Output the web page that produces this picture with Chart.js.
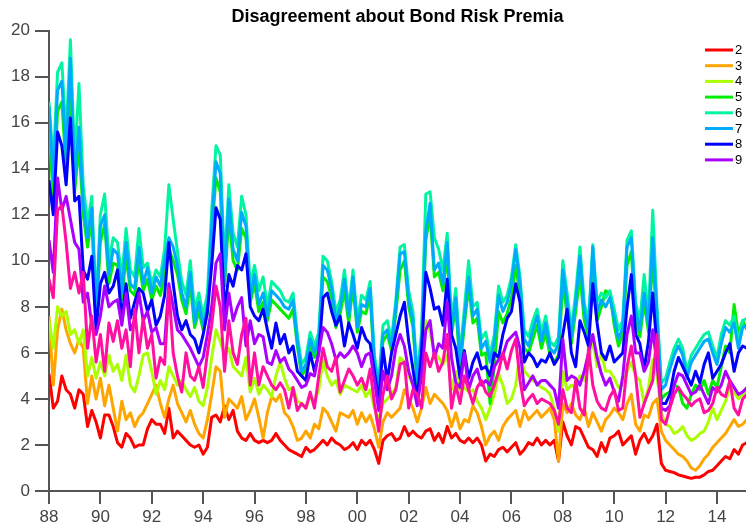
<!DOCTYPE html>
<html><head><meta charset="utf-8">
<script src="https://cdn.jsdelivr.net/npm/chart.js@4.4.1/dist/chart.umd.min.js"></script>
<style>html,body{margin:0;padding:0;background:#fff}#wrap{width:746px;height:529px}</style>
</head><body><div id="wrap"><canvas id="c" width="746" height="529"></canvas></div>
<script>
// Disagreement about Bond Risk Premia, sampled every 2 months from 1988
const startYear = 1988;
const stepYears = 1 / 6;
const xTickValues = [1988,1990,1992,1994,1996,1998,2000,2002,2004,2006,2008,2010,2012,2014];
const yTickValues = [0,2,4,6,8,10,12,14,16,18,20];
const seriesLabels = ['2','3','4','5','6','7','8','9','10'];
const seriesColors = ['#ff0000','#ffa500','#aaff00','#00ee00','#00f5a0','#00aaff','#0000ff','#aa00ff','#ff10a0'];

const s2 = [5.1,3.6,3.9,5.0,4.4,4.2,3.6,4.4,4.2,2.8,3.5,3.0,2.3,3.3,3.3,2.8,2.1,1.9,2.5,2.3,1.9,2.0,2.0,2.7,3.1,2.9,2.9,
2.5,3.6,2.3,2.6,2.4,2.2,2.0,1.9,2.0,1.6,1.9,3.2,3.3,3.0,3.7,3.1,3.5,2.6,2.3,2.2,2.5,2.2,2.1,2.2,2.1,2.2,2.5,
2.2,2.0,1.8,1.7,1.6,1.5,1.9,1.7,1.8,2.0,2.2,2.0,2.3,2.1,2.0,1.8,1.9,2.1,1.8,2.2,2.0,2.2,1.8,1.2,2.2,2.4,2.5,2.2,2.3,
2.8,2.4,2.6,2.4,2.3,2.6,2.7,2.2,2.5,2.1,2.8,2.3,2.5,2.2,2.1,2.3,2.1,2.3,2.0,1.3,1.6,1.5,1.8,1.9,1.7,1.9,2.1,1.6,
1.8,2.1,2.0,2.3,2.0,2.2,2.0,2.2,1.3,3.0,2.4,2.0,2.8,2.7,2.3,1.9,1.8,1.5,2.1,1.7,2.3,2.4,2.6,2.0,2.2,
2.4,1.6,2.2,2.5,2.1,2.4,2.9,1.2,0.9,0.85,0.8,0.7,0.65,0.6,0.55,0.6,0.6,0.7,0.85,0.9,1.1,1.3,1.5,1.4,1.8,1.6,2.0,2.1];

const s3 = [7.6,4.6,7.0,7.9,7.0,6.4,6.0,6.6,6.2,3.8,5.0,4.0,4.9,3.7,4.6,3.6,2.6,3.9,3.1,3.4,2.8,3.2,3.4,3.8,4.2,4.6,3.8,
3.2,4.0,4.6,3.8,3.4,3.0,3.5,2.9,2.5,2.3,3.1,4.2,5.4,5.2,3.2,4.0,3.8,3.6,4.1,3.1,3.5,4.0,3.2,2.3,3.4,4.1,3.9,
4.2,3.4,3.2,2.8,2.2,2.3,2.6,2.3,2.9,2.7,3.6,3.4,3.0,2.6,3.4,3.3,3.2,3.5,2.9,3.4,3.0,3.3,2.7,1.9,3.0,3.4,3.2,3.4,3.6,
4.4,4.0,3.6,3.0,3.6,4.5,3.8,4.2,4.0,3.8,3.5,2.8,3.4,2.7,3.1,3.0,3.7,3.4,2.8,2.0,2.4,2.6,2.2,2.8,3.1,3.3,3.5,2.8,
3.5,3.1,3.3,3.5,3.2,3.4,3.6,3.1,1.3,3.8,3.4,3.8,3.3,3.1,3.6,2.8,3.4,3.0,2.6,3.1,3.3,3.6,3.4,3.1,3.8,
4.2,2.9,2.6,3.3,3.2,3.8,4.0,2.6,2.2,2.0,1.8,1.6,1.5,1.3,1.0,0.9,1.1,1.4,1.6,1.9,2.1,2.3,2.5,2.8,3.1,2.8,2.9,3.1];

const s4 = [7.4,6.2,8.0,7.6,7.8,6.8,7.0,6.4,7.0,5.0,5.8,4.9,5.6,5.0,5.9,5.2,5.5,4.8,5.9,4.6,4.3,5.0,5.9,6.0,5.2,4.2,4.8,
4.4,5.4,5.0,4.6,4.8,4.4,4.1,4.5,3.9,3.7,4.5,5.8,7.0,6.5,5.9,6.2,5.4,5.2,5.0,5.8,4.3,4.9,4.2,4.6,4.4,4.1,5.0,
5.6,4.9,4.4,4.5,3.9,3.8,3.6,4.1,3.9,4.4,5.7,5.0,4.6,4.8,4.2,4.6,4.5,4.4,4.3,4.6,4.1,4.4,3.6,3.1,3.8,4.0,4.2,4.5,5.8,
5.6,5.0,4.6,4.2,5.0,7.4,6.9,6.0,5.8,5.5,5.9,4.4,5.2,4.3,4.5,4.3,4.4,3.9,3.6,3.1,3.6,4.2,5.1,4.6,3.8,4.0,4.6,6.0,
5.2,5.0,4.8,4.7,4.5,4.4,4.2,3.6,2.6,5.2,4.4,4.6,4.5,5.0,4.8,5.5,6.6,5.4,6.0,5.2,5.2,4.9,4.5,4.6,5.2,
5.6,5.0,4.8,3.8,4.5,5.7,5.0,3.4,2.9,2.8,2.5,2.6,2.8,2.4,2.2,2.3,2.5,2.6,3.0,3.6,3.1,3.5,3.9,4.5,4.3,4.0,4.2,4.4];

const s5 = [15.6,12.8,16.5,16.9,14.0,17.8,13.0,15.0,12.0,10.6,
11.8,7.4,10.8,11.6,9.0,9.9,9.8,8.3,10.2,8.7,
8.5,10.0,8.7,9.2,8.3,8.9,8.5,9.4,10.5,10.0,
9.4,8.3,7.7,9.0,7.1,7.8,7.0,7.7,11.2,13.6,
13.0,8.9,12.0,10.0,9.6,11.4,11.0,8.2,9.0,7.8,
8.2,7.4,8.3,8.1,7.9,7.7,7.5,7.9,6.3,5.0,
5.3,6.3,5.8,6.3,9.3,9.1,8.4,7.1,7.7,8.7,
7.3,8.9,6.9,7.8,7.7,8.5,5.3,4.2,6.5,6.8,
6.1,7.7,9.6,10.0,8.0,7.1,4.6,6.3,10.9,12.0,
9.3,9.5,8.7,10.3,6.8,8.0,5.3,7.2,8.9,7.3,
7.5,5.9,6.0,3.8,5.4,7.8,7.3,7.7,8.4,9.8,
8.5,6.2,6.0,6.6,7.2,6.2,6.9,5.9,5.6,5.9,
9.0,7.7,6.4,7.8,9.4,7.4,6.7,9.6,7.4,8.0,
8.7,8.6,7.2,6.3,6.8,9.8,10.4,7.3,6.7,8.2,
6.9,10.2,7.2,4.0,4.2,4.3,4.6,4.5,3.8,3.6,
4.2,4.6,4.4,4.8,4.2,4.8,4.5,5.4,6.3,6.0,
8.1,6.8,7.4,7.0];

const s6 = [16.9,14.2,18.2,18.6,15.4,19.6,14.3,17.7,13.3,11.6,
12.8,8.0,12.0,12.9,10.0,11.0,10.8,9.2,11.4,9.6,
9.3,11.4,9.7,9.9,9.0,9.6,9.3,10.5,13.3,11.8,
10.4,9.1,8.5,10.0,7.8,8.6,7.6,8.6,12.2,15.0,
14.6,9.8,13.3,11.2,10.6,12.8,12.0,8.9,9.8,8.7,
9.3,8.0,9.1,8.9,8.7,8.3,8.2,8.6,6.8,5.5,
5.8,6.9,6.3,6.9,10.2,10.0,9.1,7.8,8.3,9.6,
7.9,9.6,7.4,8.5,8.3,9.1,5.9,4.7,7.2,7.4,
6.6,8.3,10.6,10.7,8.7,7.8,5.0,6.9,12.9,13.0,
11.0,10.5,9.6,11.2,7.4,8.8,5.9,7.9,10.0,8.0,
8.2,6.6,6.9,5.9,6.8,8.9,8.2,8.5,9.3,10.7,
9.3,7.0,6.7,7.4,7.9,6.9,7.6,6.5,6.3,6.7,
10.0,8.6,7.0,8.6,10.6,8.2,7.3,10.7,8.2,8.6,
8.4,8.7,7.9,7.0,7.4,10.9,11.3,8.2,7.4,9.4,
7.6,12.2,8.0,4.7,4.9,5.6,6.2,6.6,6.2,5.2,
5.9,6.2,6.5,6.8,6.9,6.3,5.8,6.8,7.4,7.2,
7.6,6.5,7.4,7.5];

const s7 = [16.7,13.5,17.4,17.8,14.5,18.8,13.5,15.8,12.5,11.0,
12.3,7.6,11.5,12.0,9.4,10.5,10.3,8.6,10.8,9.0,
8.8,10.6,9.0,9.7,8.6,9.3,8.9,10.0,11.0,10.6,
9.8,8.6,8.0,9.5,7.3,8.2,7.2,8.0,11.5,14.3,
13.8,9.2,12.7,10.5,10.0,12.1,11.5,8.4,9.4,8.1,
8.6,7.6,8.7,8.5,8.3,8.0,7.9,8.3,6.5,5.2,
5.5,6.6,6.0,6.6,9.8,9.6,8.8,7.4,8.0,9.2,
7.6,9.3,7.1,8.1,8.0,8.8,5.6,4.5,6.8,7.0,
6.3,8.0,10.3,10.4,8.3,7.4,4.8,6.5,11.3,12.5,
9.6,9.9,9.0,10.8,7.0,8.4,5.6,7.5,9.3,7.6,
7.9,6.2,6.5,5.6,6.5,8.5,7.8,8.2,9.0,10.5,
9.0,6.6,6.3,7.0,7.6,6.5,7.3,6.2,6.0,6.4,
9.6,8.2,6.7,8.2,10.2,7.8,7.0,10.6,7.8,8.3,
8.0,8.4,7.5,6.6,7.1,10.6,11.0,7.8,7.0,8.6,
7.2,11.0,7.6,4.4,4.6,5.3,5.9,6.3,5.9,4.9,
5.6,5.9,6.2,6.5,6.6,6.0,5.5,6.4,7.1,6.9,
7.3,6.2,7.1,7.2];

const s8 = [13.5,12.0,15.6,15.0,13.3,16.2,12.6,12.8,9.6,9.2,10.2,7.0,9.0,9.5,8.6,8.9,9.6,7.5,9.0,7.5,8.2,8.8,8.6,7.8,8.3,7.2,7.6,
8.5,10.8,9.0,7.6,7.0,7.4,6.8,6.6,6.0,6.8,7.8,9.8,12.3,11.8,7.8,9.4,8.9,9.8,9.6,10.3,8.0,7.6,7.4,7.9,7.0,6.2,7.3,
6.4,6.8,6.0,6.3,5.2,5.0,4.8,6.0,5.2,6.0,8.4,8.6,7.8,7.2,7.6,6.3,7.3,6.8,6.2,7.1,6.6,6.4,5.2,3.9,6.2,4.8,6.0,6.8,7.6,
8.2,6.5,5.3,4.0,6.0,9.5,8.8,7.9,8.0,7.2,9.2,6.8,6.2,4.9,6.1,4.9,5.6,6.0,5.3,5.4,5.0,6.0,5.8,6.8,7.5,7.8,9.0,8.2,
5.6,6.0,5.8,5.4,5.7,5.6,6.0,5.5,5.8,6.8,7.9,6.0,5.4,7.4,6.9,6.3,9.0,7.3,6.0,5.7,6.3,5.6,5.8,6.0,8.0,
9.4,6.8,6.4,5.3,6.5,8.6,6.2,3.8,3.8,4.2,5.2,5.8,5.4,5.0,4.6,5.2,4.7,5.5,6.0,4.9,5.2,5.5,6.0,6.4,5.2,6.0,6.3,6.2];

const s9 = [10.9,9.5,13.6,12.2,12.8,11.8,10.8,10.5,8.2,8.6,7.2,6.8,7.6,8.9,8.0,8.2,8.3,7.2,8.6,7.0,7.4,8.6,7.4,7.8,6.9,7.1,6.4,
6.4,9.0,8.0,7.0,6.8,6.5,6.2,5.8,5.4,5.8,6.8,8.0,9.9,10.3,7.0,8.6,7.4,8.0,8.4,6.3,7.4,6.4,6.8,6.7,5.6,5.5,6.1,
5.6,5.8,5.3,5.1,4.8,4.5,4.6,5.1,5.0,6.0,7.1,6.9,6.4,5.7,6.0,5.8,6.0,6.3,6.0,5.4,5.9,6.0,4.8,3.5,5.2,4.4,5.0,6.2,6.8,
6.3,5.2,4.6,3.7,5.0,7.0,7.4,5.8,6.4,6.2,8.2,5.8,4.7,4.5,6.0,4.4,5.0,5.3,4.6,4.8,4.6,5.4,5.7,5.9,6.5,6.7,6.9,6.2,
4.4,4.7,5.0,4.6,4.8,4.8,4.6,4.4,3.6,6.6,4.8,5.0,4.9,4.6,5.2,6.0,6.8,5.8,5.1,4.6,4.9,4.3,3.9,5.0,6.8,
7.6,6.0,6.0,5.2,5.6,7.0,5.5,3.6,3.5,3.7,4.6,5.1,5.0,4.6,4.2,4.3,4.6,4.2,3.8,4.5,4.3,4.6,5.2,4.8,4.5,4.2,4.3,4.5];

const s10 = [9.2,8.4,12.2,12.4,10.8,8.8,9.5,8.6,9.5,6.2,7.6,5.6,6.8,5.2,7.3,6.5,7.4,6.2,7.0,5.4,7.9,6.0,7.5,6.2,6.8,4.9,5.8,
5.5,8.8,6.0,5.0,4.3,6.0,5.0,4.8,5.4,4.5,6.0,7.2,8.9,8.0,5.2,7.4,6.0,5.5,6.8,7.5,4.6,6.0,4.6,5.4,5.0,4.6,4.4,
4.7,4.4,3.6,4.5,3.5,3.8,3.6,4.3,3.6,5.0,6.2,5.4,5.2,5.8,4.3,4.8,5.3,5.0,4.6,4.9,4.4,5.3,3.8,2.6,4.2,5.0,4.0,4.4,5.5,
5.6,3.6,4.4,4.2,3.6,6.0,5.4,6.0,5.2,5.6,6.8,3.6,4.6,3.8,5.0,4.4,3.8,4.5,4.8,4.3,4.1,4.6,5.2,6.0,5.3,6.1,6.6,4.8,
3.7,4.0,4.2,3.8,4.0,3.9,3.8,3.5,2.9,4.4,3.6,3.4,4.8,3.6,3.3,6.2,4.6,3.9,3.6,3.5,4.1,4.4,3.5,3.6,5.4,
6.3,5.0,3.2,3.8,4.3,4.8,6.8,3.1,2.9,3.6,4.2,4.5,4.2,4.0,3.7,3.9,4.0,3.4,3.5,3.8,4.5,4.2,4.1,4.8,3.6,3.3,4.0,4.2];

const allSeries = [s2,s3,s4,s5,s6,s7,s8,s9,s10];
const FONT = "'Liberation Sans', Arial, sans-serif";

const datasets = allSeries.map((vals, i) => ({
  label: seriesLabels[i],
  data: vals.map((v, j) => ({ x: startYear + j * stepYears, y: v })),
  borderColor: seriesColors[i],
  backgroundColor: seriesColors[i],
  borderWidth: 3,
  pointRadius: 0,
  borderJoinStyle: 'round',
  tension: 0,
  fill: false,
  order: allSeries.length - 1 - i
}));

const legendPlugin = {
  id: 'sideLegend',
  afterDraw(chart) {
    const ctx = chart.ctx;
    ctx.save();
    ctx.font = '13px ' + FONT;
    ctx.textBaseline = 'middle';
    ctx.textAlign = 'left';
    for (let i = 0; i < 8; i++) {
      const y = 50 + i * 15.7;
      ctx.strokeStyle = seriesColors[i];
      ctx.lineWidth = 3;
      ctx.beginPath();
      ctx.moveTo(705, y);
      ctx.lineTo(733, y);
      ctx.stroke();
      ctx.fillStyle = '#000';
      ctx.fillText(seriesLabels[i], 735, y + 0.5);
    }
    ctx.restore();
  }
};

const axisColor = '#555';
new Chart(document.getElementById('c'), {
  type: 'line',
  data: { datasets },
  plugins: [legendPlugin],
  options: {
    responsive: false,
    animation: false,
    events: [],
    layout: { padding: { left: 0, right: 0, top: 0, bottom: 0 } },
    plugins: {
      legend: { display: false },
      tooltip: { enabled: false },
      title: {
        display: true,
        text: 'Disagreement about Bond Risk Premia',
        color: '#000',
        fullSize: false,
        font: { family: FONT, size: 18, weight: 'bold' },
        padding: { top: 6, bottom: 3 }
      }
    },
    scales: {
      x: {
        type: 'linear',
        min: 1988,
        max: 2015.13,
        border: { display: true, color: axisColor, width: 2 },
        grid: { display: true, drawOnChartArea: false, drawTicks: true, tickLength: 13, color: axisColor, lineWidth: 2 },
        ticks: {
          color: '#444', font: { family: FONT, size: 17 }, padding: 3, maxRotation: 0, autoSkip: false,
          callback: v => String(Math.round(v) % 100).padStart(2, '0')
        },
        afterBuildTicks: s => { s.ticks = xTickValues.map(v => ({ value: v })); },
        afterFit: s => { s.height = 38; }
      },
      y: {
        type: 'linear',
        min: 0,
        max: 20,
        border: { display: true, color: axisColor, width: 2 },
        grid: { display: true, drawOnChartArea: false, drawTicks: true, tickLength: 14, color: axisColor, lineWidth: 2 },
        ticks: { color: '#444', font: { family: FONT, size: 17 }, padding: 5 },
        afterBuildTicks: s => { s.ticks = yTickValues.map(v => ({ value: v })); },
        afterFit: s => { s.width = 49; }
      }
    }
  }
});
</script>
</body></html>
